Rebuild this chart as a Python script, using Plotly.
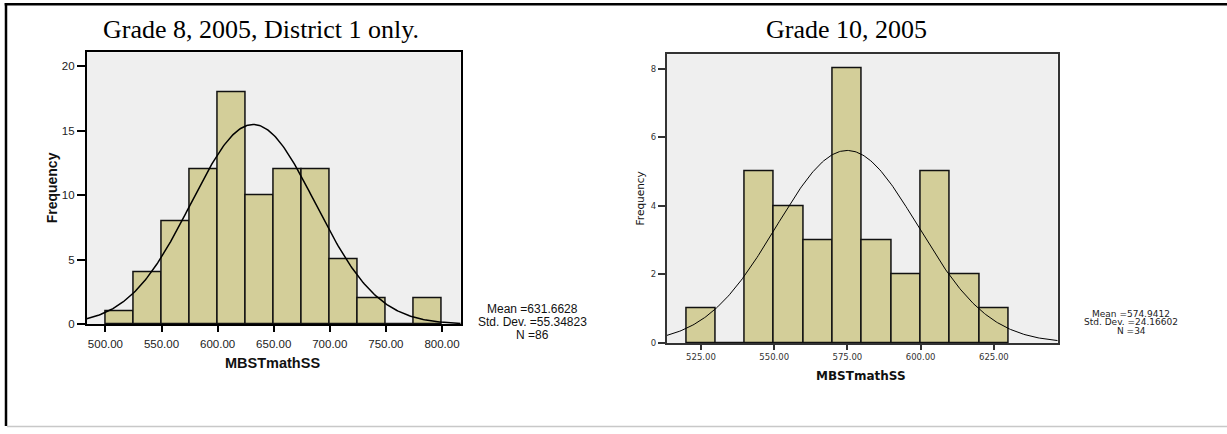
import numpy as np
import plotly.graph_objects as go

W, H = 1227, 434

# ---- Grade 8, 2005, District 1 ----
g8_edges = [500, 525, 550, 575, 600, 625, 650, 675, 700, 725, 750, 775, 800]
g8_counts = [1, 4, 8, 12, 18, 10, 12, 12, 5, 2, 0, 2]
g8_mean, g8_sd, g8_n = 631.6628, 55.34823, 86
g8_xticks = [500, 550, 600, 650, 700, 750, 800]
g8_yticks = [0, 5, 10, 15, 20]

# ---- Grade 10, 2005 ----
g10_edges = [520, 530, 540, 550, 560, 570, 580, 590, 600, 610, 620, 630]
g10_counts = [1, 0, 5, 4, 3, 8, 3, 2, 5, 2, 1]
g10_mean, g10_sd, g10_n = 574.9412, 24.16602, 34
g10_xticks = [525, 550, 575, 600, 625]
g10_yticks = [0, 2, 4, 6, 8]

BAR = "rgb(211,206,153)"
BG = "rgb(239,239,239)"


def px_x(p):
    return p / W


def px_y(p):
    return 1 - p / H


def normal_curve(mean, sd, n, width, lo, hi):
    xs = np.linspace(lo, hi, 300)
    ys = n * width / (sd * np.sqrt(2 * np.pi)) * np.exp(-0.5 * ((xs - mean) / sd) ** 2)
    return xs, ys


def bar_trace(edges, counts, axis, lw):
    centers = [(a + b) / 2 for a, b in zip(edges[:-1], edges[1:])]
    widths = [b - a for a, b in zip(edges[:-1], edges[1:])]
    return go.Bar(x=centers, y=counts, width=widths, marker=dict(color=BAR, line=dict(color="#111", width=lw)),
                  xaxis="x" + axis, yaxis="y" + axis, showlegend=False, hoverinfo="x+y")


g8_range = [483.3, 816.7]
g10_range = [513.3, 646.8]

fig = go.Figure()
fig.add_trace(bar_trace(g8_edges, g8_counts, "", 1.5))
cx, cy = normal_curve(g8_mean, g8_sd, g8_n, 25, *g8_range)
fig.add_trace(go.Scatter(x=cx, y=cy, mode="lines", line=dict(color="black", width=1.5),
                         xaxis="x", yaxis="y", showlegend=False, hoverinfo="skip"))
fig.add_trace(bar_trace(g10_edges, g10_counts, "2", 1.5))
cx, cy = normal_curve(g10_mean, g10_sd, g10_n, 10, *g10_range)
fig.add_trace(go.Scatter(x=cx, y=cy, mode="lines", line=dict(color="black", width=1),
                         xaxis="x2", yaxis="y2", showlegend=False, hoverinfo="skip"))

left_font = dict(family="Liberation Sans, Arial", size=11.5, color="#222")
right_font = dict(family="DejaVu Sans", size=8.5, color="#333")

fig.update_layout(
    width=W, height=H, margin=dict(l=0, r=0, t=0, b=0),
    paper_bgcolor="white", plot_bgcolor=BG, bargap=0,
    xaxis=dict(domain=[px_x(86.7), px_x(460.7)], range=g8_range, tickvals=g8_xticks,
               tickformat=".2f", ticks="outside", ticklen=6, tickcolor="black", tickwidth=1.5,
               ticklabelstandoff=2,
               showline=True, linecolor="black", linewidth=1.5, mirror=True,
               showgrid=False, zeroline=False, tickfont=left_font, anchor="y"),
    yaxis=dict(domain=[px_y(328.7), px_y(53)], range=[0, 21.1], tickvals=g8_yticks,
               ticks="outside", ticklen=8, tickcolor="black", tickwidth=1.5,
               showline=True, linecolor="black", linewidth=1.5, mirror=True,
               showgrid=False, zeroline=False, tickfont=left_font, anchor="x"),
    xaxis2=dict(domain=[px_x(666.7), px_x(1057.7)], range=g10_range, tickvals=g10_xticks,
                tickformat=".2f", ticks="outside", ticklen=5, tickcolor="#333", tickwidth=1.5,
                showline=True, linecolor="#333", linewidth=1.5, mirror=True,
                showgrid=False, zeroline=False, tickfont=right_font, anchor="y2"),
    yaxis2=dict(domain=[px_y(347.7), px_y(55)], range=[0, 8.42], tickvals=g10_yticks,
                ticks="outside", ticklen=7, tickcolor="#333", tickwidth=1.5,
                showline=True, linecolor="#333", linewidth=1.5, mirror=True,
                showgrid=False, zeroline=False, tickfont=right_font, anchor="x2"),
)

ann = []


def text(x, y, s, font, angle=0):
    ann.append(dict(x=px_x(x), y=px_y(y), xref="paper", yref="paper", text=s, showarrow=False,
                    xanchor="center", yanchor="middle", font=font, textangle=angle))


title_font = dict(family="Liberation Serif, Times New Roman", size=26, color="black")
text(261, 30, "Grade 8, 2005, District 1 only.", title_font)
text(846, 30, "Grade 10, 2005", title_font)

text(272, 368, "<b>MBSTmathSS</b>", dict(family="Liberation Sans, Arial", size=14.5, color="#111"))
text(52, 191, "<b>Frequency</b>", dict(family="Liberation Sans, Arial", size=14, color="#111"), -90)
text(861, 381.5, "<b>MBSTmathSS</b>", dict(family="DejaVu Sans", size=12, color="#111"))
text(639.5, 201.7, "Frequency", dict(family="DejaVu Sans", size=10.5, color="#111"), -90)

stat_font_l = dict(family="Liberation Sans, Arial", size=12, color="#111")
text(532, 313.3, f"Mean ={g8_mean:.4f}", stat_font_l)
text(532, 326.3, f"Std. Dev. ={g8_sd:.5f}", stat_font_l)
text(532, 339.3, f"N ={g8_n}", stat_font_l)

stat_font_r = dict(family="DejaVu Sans", size=9, color="#222")
text(1131, 318.2, f"Mean ={g10_mean:.4f}", stat_font_r)
text(1131, 326.7, f"Std. Dev. ={g10_sd:.5f}", stat_font_r)
text(1131, 335.2, f"N ={g10_n}", stat_font_r)

fig.update_layout(annotations=ann)

# frame around the page
fig.update_layout(shapes=[
    dict(type="line", xref="paper", yref="paper", x0=px_x(4.7), x1=1, y0=px_y(4.3), y1=px_y(4.3),
         line=dict(color="black", width=2.5)),
    dict(type="line", xref="paper", yref="paper", x0=px_x(6), x1=px_x(6), y0=px_y(3), y1=px_y(432),
         line=dict(color="black", width=2.5)),
    dict(type="line", xref="paper", yref="paper", x0=px_x(7), x1=1, y0=px_y(432.5), y1=px_y(432.5),
         line=dict(color="#c8c8c8", width=1.5)),
])

fig.write_html("out.html")
